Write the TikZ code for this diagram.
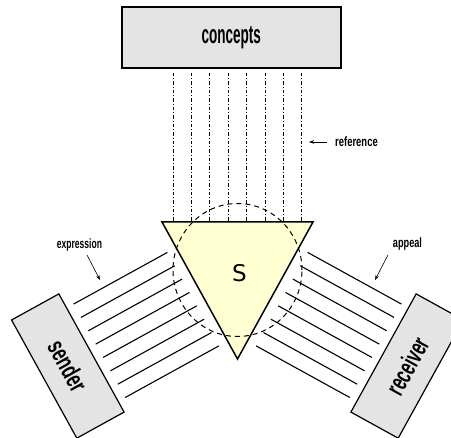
\documentclass[tikz,border=0pt]{standalone}
\usepackage{fontspec}
\setmainfont{Liberation Sans}
\newfontfamily\sfont{DejaVu Sans}
\usetikzlibrary{arrows.meta,calc}
\definecolor{triyellow}{RGB}{255,255,210}
\definecolor{boxgrey}{RGB}{228,228,228}
\begin{document}
\begin{tikzpicture}[x=1pt,y=-1pt,
  greybox/.style={draw=black, line width=1.6pt, fill=boxgrey, inner sep=0pt},
  sidebox/.style={draw=black, line width=1.2pt, fill=boxgrey, inner sep=0pt, minimum width=135pt, minimum height=54pt},
  bigtxt/.style={font=\bfseries\fontsize{26}{26}\selectfont},
  lbl/.style={font=\bfseries\fontsize{13.5}{13.5}\selectfont, inner sep=0pt},
  refline/.style={line width=1pt, dash pattern=on 3.5pt off 2pt on 1pt off 2pt},
  ray/.style={line width=1.1pt},
  dcircle/.style={line width=1pt, dash pattern=on 5pt off 4pt},
  arr/.style={line width=0.6pt, -{Stealth[length=5pt,width=3.5pt]}}
]
\useasboundingbox (0,0) rectangle (451,438);
% concepts box
\node[greybox, minimum width=219pt, minimum height=61pt, bigtxt] (concepts) at (231.2,37.8) {\scalebox{0.52}[1]{concepts}};
% triangle
\coordinate (A) at (162,222);
\coordinate (B) at (313,222);
\coordinate (C) at (237.5,359);
\fill[triyellow] (A) -- (B) -- (C) -- cycle;
% reference lines
\foreach \i in {0,...,7} \draw[refline] ({173.3+18.34*\i},73) -- ({173.3+18.34*\i},222);
% left side
\coordinate (ML) at (199.75,290.5);
\begin{scope}[shift={(ML)}, x={(0.4826pt,-0.8758pt)}, y={(-0.8758pt,-0.4826pt)}]
  \foreach \i in {0,...,7} \draw[ray] ({-49+15.25*\i},10) -- ({-49+15.25*\i},117);
  \node[sidebox, rotate=-61.1, bigtxt] (sender) at (2.5,152) {\scalebox{0.634}[1]{sender}};
\end{scope}
% right side
\coordinate (MR) at (275.25,290.5);
\begin{scope}[shift={(MR)}, x={(-0.4826pt,-0.8758pt)}, y={(0.8758pt,-0.4826pt)}]
  \foreach \i in {0,...,7} \draw[ray] ({-49+15.25*\i},10) -- ({-49+15.25*\i},117);
  \node[sidebox, rotate=61.1, bigtxt] (receiver) at (2.5,152) {\scalebox{0.612}[1]{receiver}};
\end{scope}
% dashed circle
\draw[dcircle] (237.5,270) ellipse [x radius=64.5pt, y radius=66.5pt];
% triangle border
\draw[line width=1.5pt, line join=miter] (A) -- (B) -- (C) -- cycle;
\node[font=\sfont\fontsize{23}{23}\selectfont, inner sep=0pt] (S) at (239.5,273.3) {S};
% labels
\node[lbl] (reflbl) at (356.5,142) {\scalebox{0.70}[1]{reference}};
\coordinate (refhead) at (309,142);
\draw[arr] ([xshift=-8pt]reflbl.west) -- (refhead);
\node[lbl] (expr) at (79.5,245) {\scalebox{0.632}[1]{expression}};
\coordinate (exptail) at (87,255);
\coordinate (exphead) at (100,280);
\draw[arr] (exptail) -- (exphead);
\node[lbl] (appeal) at (407.5,244) {\scalebox{0.68}[1]{appeal}};
\coordinate (apptail) at (388,255);
\coordinate (apphead) at (375,280);
\draw[arr] (apptail) -- (apphead);
\end{tikzpicture}
\end{document}
